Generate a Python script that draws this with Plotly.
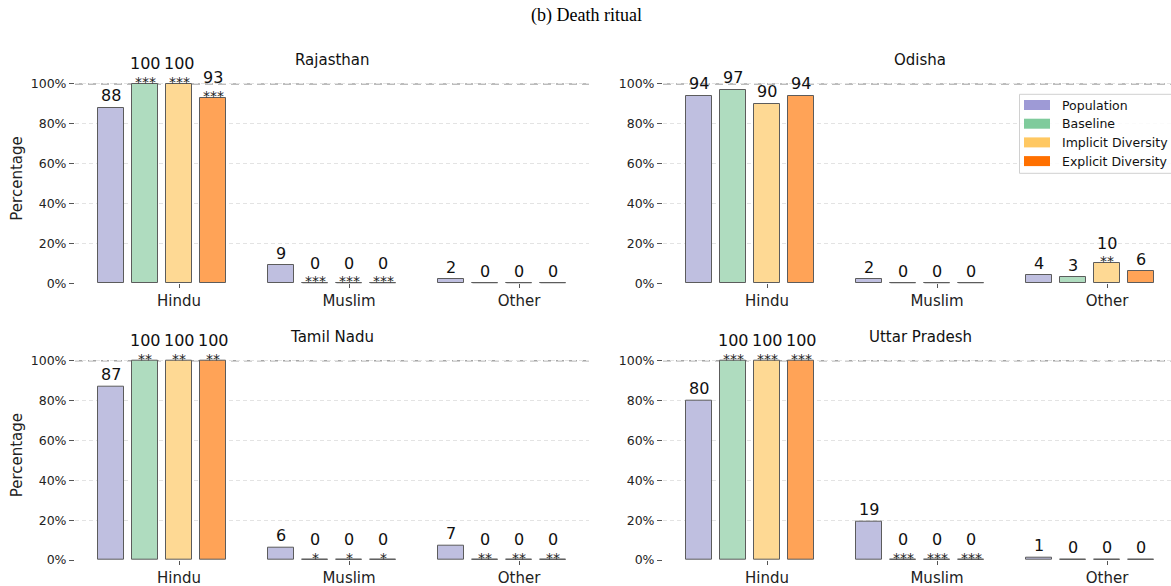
import plotly.graph_objects as go

# ---- data -------------------------------------------------------------
categories = ["Hindu", "Muslim", "Other"]
states = ["Rajasthan", "Odisha", "Tamil Nadu", "Uttar Pradesh"]
series = ["Population", "Baseline", "Implicit Diversity", "Explicit Diversity"]

population = {
    "Rajasthan": [88, 9, 2],
    "Odisha": [94, 2, 4],
    "Tamil Nadu": [87, 6, 7],
    "Uttar Pradesh": [80, 19, 1],
}
baseline = {
    "Rajasthan": [100, 0, 0],
    "Odisha": [97, 0, 3],
    "Tamil Nadu": [100, 0, 0],
    "Uttar Pradesh": [100, 0, 0],
}
implicit_div = {
    "Rajasthan": [100, 0, 0],
    "Odisha": [90, 0, 10],
    "Tamil Nadu": [100, 0, 0],
    "Uttar Pradesh": [100, 0, 0],
}
explicit_div = {
    "Rajasthan": [93, 0, 0],
    "Odisha": [94, 0, 6],
    "Tamil Nadu": [100, 0, 0],
    "Uttar Pradesh": [100, 0, 0],
}
# significance markers vs. population (Baseline, Implicit, Explicit)
stars_baseline = {
    "Rajasthan": ["***", "***", ""],
    "Odisha": ["", "", ""],
    "Tamil Nadu": ["**", "*", "**"],
    "Uttar Pradesh": ["***", "***", ""],
}
stars_implicit = {
    "Rajasthan": ["***", "***", ""],
    "Odisha": ["", "", "**"],
    "Tamil Nadu": ["**", "*", "**"],
    "Uttar Pradesh": ["***", "***", ""],
}
stars_explicit = {
    "Rajasthan": ["***", "***", ""],
    "Odisha": ["", "", ""],
    "Tamil Nadu": ["**", "*", "**"],
    "Uttar Pradesh": ["***", "***", ""],
}
y_ticks = [0, 20, 40, 60, 80, 100]
y_tick_labels = ["0%", "20%", "40%", "60%", "80%", "100%"]

# ---- styling ----------------------------------------------------------
W, H = 1171, 586
FONT = "DejaVu Sans"
legend_colors = ["#9e9ad6", "#7fcb9c", "#ffc862", "#ff7000"]
bar_colors = ["#bfbfe0", "#afdcbf", "#fed994", "#ffa357"]
edge_color = "#5c5c5c"
offsets = [-0.4, -0.2, 0.0, 0.2]
bar_w = 0.148

# subplot placement in pixels (left, right, top, bottom)
panel_px = {
    "Rajasthan": (75, 589, 74, 283.3),
    "Odisha": (663, 1171, 74, 283.3),
    "Tamil Nadu": (75, 589, 350.7, 560),
    "Uttar Pradesh": (663, 1171, 350.7, 560),
}
full_right = {"Rajasthan": 589, "Odisha": 1177,
              "Tamil Nadu": 589, "Uttar Pradesh": 1177}
px_per_unit = 170.0
x_left = -0.612

fig = go.Figure()
shapes = []
annotations = []

for k, state in enumerate(states):
    idx = "" if k == 0 else str(k + 1)
    xa, ya = "x" + idx, "y" + idx
    l, r, t, b = panel_px[state]
    x_range = [x_left, x_left + (r - l) / px_per_unit]

    fig.update_layout(**{
        "xaxis" + idx: dict(
            domain=[l / W, r / W], range=x_range, anchor=ya,
            tickmode="array", tickvals=list(range(len(categories))),
            ticktext=categories, ticks="outside", ticklen=4,
            tickcolor="#555", showgrid=False, zeroline=False,
            showline=False, automargin=False,
            tickfont=dict(family=FONT, size=15, color="#222"),
            fixedrange=True,
        ),
        "yaxis" + idx: dict(
            domain=[1 - b / H, 1 - t / H], range=[0, 105], anchor=xa,
            tickmode="array", tickvals=y_ticks, ticktext=y_tick_labels,
            ticks="outside", ticklen=5, tickcolor="#555",
            showgrid=True, gridcolor="#e3e3e3", griddash="4px,3px",
            gridwidth=1, zeroline=False, showline=False, automargin=False,
            tickfont=dict(family=FONT, size=12.5, color="#222"),
            fixedrange=True,
        ),
    })

    vals_all = [population[state], baseline[state],
                implicit_div[state], explicit_div[state]]
    stars_all = [[""] * 3, stars_baseline[state],
                 stars_implicit[state], stars_explicit[state]]

    for s, name in enumerate(series):
        xs = [i + offsets[s] for i in range(len(categories))]
        fig.add_trace(go.Bar(
            x=xs, y=vals_all[s], width=bar_w, name=name,
            marker=dict(color=bar_colors[s],
                        line=dict(color=edge_color, width=1)),
            xaxis=xa, yaxis=ya, showlegend=False,
        ))
        for xv, v, st in zip(xs, vals_all[s], stars_all[s]):
            if v == 0:
                # zero-height bar is drawn as its edge on the baseline
                shapes.append(dict(
                    type="line", xref=xa, yref=ya,
                    x0=xv - bar_w / 2, x1=xv + bar_w / 2, y0=0, y1=0,
                    line=dict(color=edge_color, width=1.2),
                ))
            if st:
                # value label sits just above its significance stars
                annotations.append(dict(
                    x=xv, y=v, xref=xa, yref=ya, text=str(v),
                    showarrow=False, xanchor="center", yanchor="bottom",
                    yshift=10.6, borderpad=0, borderwidth=0,
                    font=dict(family=FONT, size=16, color="#111"),
                ))
                annotations.append(dict(
                    x=xv, y=v, xref=xa, yref=ya, text=st,
                    showarrow=False, xanchor="center", yanchor="bottom",
                    yshift=-5.9, borderpad=0, borderwidth=0,
                    font=dict(family=FONT, size=14, color="#222"),
                ))
            else:
                annotations.append(dict(
                    x=xv, y=v, xref=xa, yref=ya, text=str(v),
                    showarrow=False, xanchor="center", yanchor="bottom",
                    yshift=0.8,
                    font=dict(family=FONT, size=16, color="#111"),
                ))

    # 100% reference line
    shapes.append(dict(
        type="line", xref=xa + " domain", yref=ya,
        x0=0, x1=1, y0=100, y1=100, layer="below",
        line=dict(color="#a6a6a6", width=1.5, dash="8px,5px"),
    ))
    # subplot title
    annotations.append(dict(
        x=(l + full_right[state]) / 2 / W,
        y=1 - t / H, xref="paper", yref="paper", text=state,
        showarrow=False, xanchor="center", yanchor="bottom", yshift=3,
        font=dict(family=FONT, size=15, color="#111"),
    ))
    if l < 100:
        annotations.append(dict(
            x=17 / W, y=1 - (t + b) / 2 / H, xref="paper", yref="paper",
            text="Percentage", textangle=-90, showarrow=False,
            xanchor="center", yanchor="middle",
            font=dict(family=FONT, size=15, color="#222"),
        ))

# figure title
annotations.append(dict(
    x=586 / W, y=1 - 15 / H, xref="paper", yref="paper",
    text="(b) Death ritual", showarrow=False,
    xanchor="center", yanchor="middle",
    font=dict(family="Liberation Serif", size=18, color="#000"),
))

# legend drawn in the Odisha panel
shapes.append(dict(
    type="rect", xref="paper", yref="paper",
    x0=1019.5 / W, x1=1185 / W, y0=1 - 173.3 / H, y1=1 - 94.3 / H,
    line=dict(color="#d0d0d0", width=1), fillcolor="rgba(255,255,255,0.85)",
))
for s, name in enumerate(series):
    cy = 105 + s * 18.7
    shapes.append(dict(
        type="rect", xref="paper", yref="paper",
        x0=1024 / W, x1=1050 / W, y0=1 - (cy + 5) / H, y1=1 - (cy - 5) / H,
        line=dict(width=0), fillcolor=legend_colors[s],
    ))
    annotations.append(dict(
        x=1060 / W, y=1 - cy / H, xref="paper", yref="paper",
        text=name, showarrow=False, xanchor="left", yanchor="middle",
        font=dict(family=FONT, size=12.5, color="#111"),
    ))

fig.update_layout(
    width=W, height=H, margin=dict(l=0, r=0, t=0, b=0, autoexpand=False),
    paper_bgcolor="white", plot_bgcolor="white",
    barmode="overlay", bargap=0,
    shapes=shapes, annotations=annotations, showlegend=False,
)

fig.write_html("out.html", config={"displayModeBar": False})
